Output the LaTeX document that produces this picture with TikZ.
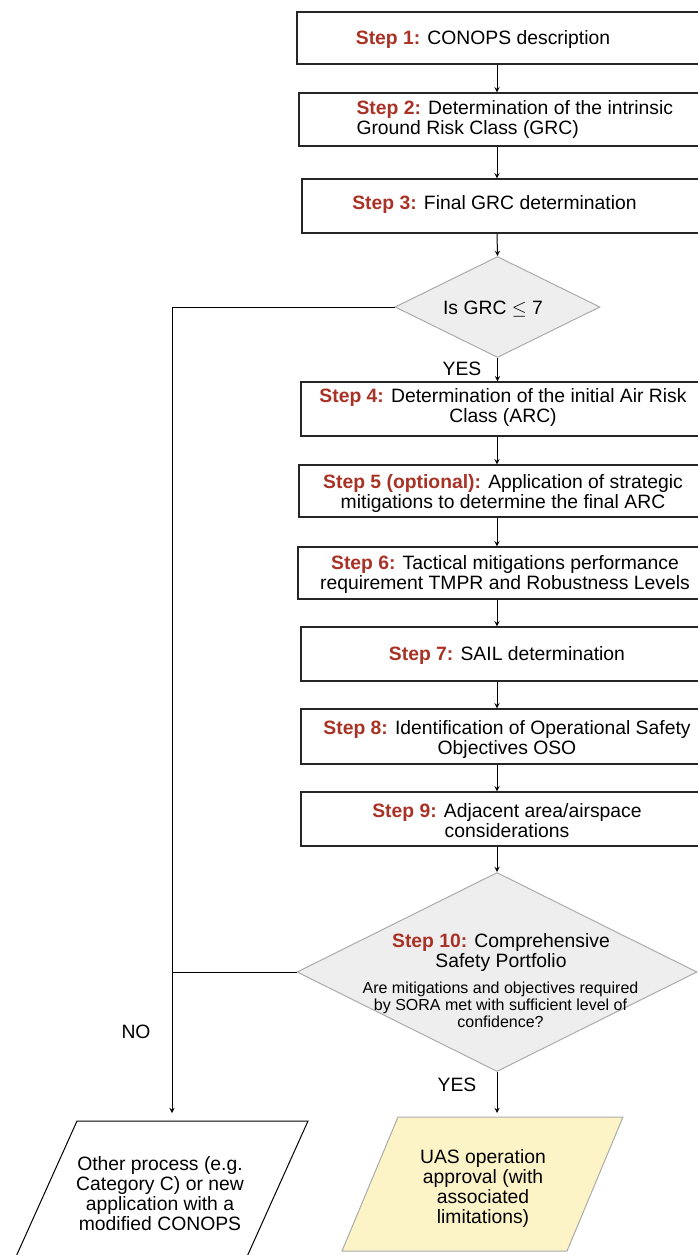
\documentclass[tikz,border=0pt]{standalone}
\usepackage{fontspec}
\setmainfont{Liberation Sans}
\usetikzlibrary{shapes.geometric, fit}
\definecolor{stepred}{HTML}{A93226}
\definecolor{decfill}{HTML}{EEEEEE}
\definecolor{decline}{HTML}{ABABAB}
\definecolor{okfill}{HTML}{FCF4C6}
\newcommand{\steplbl}[1]{\textcolor{stepred}{\textbf{Step #1:}}}
\newcommand{\bigtxt}{\fontsize{14.5}{15}\selectfont}
\newcommand{\smalltxt}{\fontsize{12}{12.6}\selectfont}
\begin{document}
\begin{tikzpicture}[x=0.75pt, y=-0.75pt, line width=0.75pt,
  stepbox/.style={draw=black!85, line width=1pt, rectangle, inner sep=0pt},
  decision/.style={draw=decline, fill=decfill, diamond, inner sep=0pt},
  txt/.style={font=\bigtxt, align=center, inner sep=0pt, yshift=-1.5pt},
  arr/.style={->, >=stealth, line width=0.75pt}]
  \useasboundingbox (0,0) rectangle (697,1255);
  \coordinate (ax) at (497,0);
  \coordinate (endL) at (172,1113);
  \coordinate (endR) at (497,1113);
  % step boxes
  \node[stepbox, fit={(297,12) (708,64)}] (s1) {};
  \node[stepbox, fit={(299,93) (708,146)}] (s2) {};
  \node[stepbox, fit={(302,179) (708,233)}] (s3) {};
  \node[decision, minimum width=153.75pt, minimum height=75.75pt] (d1) at (497.5,307) {};
  \node[stepbox, fit={(301,382) (708,436)}] (s4) {};
  \node[stepbox, fit={(299,465) (708,517)}] (s5) {};
  \node[stepbox, fit={(298,547) (708,599)}] (s6) {};
  \node[stepbox, fit={(301,627) (708,681)}] (s7) {};
  \node[stepbox, fit={(301,709) (708,764)}] (s8) {};
  \node[stepbox, fit={(301,792) (708,846)}] (s9) {};
  \node[decision, minimum width=300pt, minimum height=149.25pt] (d2) at (497,972) {};
  % outcomes
  \draw[line width=0.75pt] (77,1121) -- (308,1121) -- (227.5,1300) -- (-3.5,1300) -- cycle;
  \draw[draw=decline, fill=okfill] (398,1117) -- (623,1117) -- (567,1251) -- (342,1251) -- cycle;
  % texts
  \node[txt] (t1) at (483,38) {\steplbl{1} CONOPS description};
  \node[txt, anchor=west, align=left] (t2) at (356,117) {\steplbl{2} Determination of the intrinsic\\Ground Risk Class (GRC)};
  \node[txt] (t3) at (494.5,203) {\steplbl{3} Final GRC determination};
  \node[txt] (q1) at (493,307) {Is GRC $\leq$ 7};
  \node[txt] (t4) at (503,405) {\steplbl{4} Determination of the initial Air Risk\\Class (ARC)};
  \node[txt] (t5) at (503,491) {\steplbl{5 (optional)} Application of strategic\\mitigations to determine the final ARC};
  \node[txt] (t6) at (505,572) {\steplbl{6} Tactical mitigations performance\\requirement TMPR and Robustness Levels};
  \node[txt] (t7) at (507,653) {\steplbl{7} SAIL determination};
  \node[txt] (t8) at (507,737) {\steplbl{8} Identification of Operational Safety\\Objectives OSO};
  \node[txt] (t9) at (507,819) {\steplbl{9} Adjacent area/airspace\\considerations};
  \node[txt] (t10) at (501,950) {\steplbl{10} Comprehensive\\Safety Portfolio};
  \node[txt, font=\smalltxt] (q10) at (500.5,1003) {Are mitigations and objectives required\\by SORA met with sufficient level of\\confidence?};
  \node[txt] (other) at (160,1192) {Other process (e.g.\\Category C) or new\\application with a\\modified CONOPS};
  \node[txt] (approval) at (483,1186) {UAS operation\\approval (with\\associated\\limitations)};
  \node[txt] (yes1) at (462,367) {YES};
  \node[txt] (yes2) at (457,1083) {YES};
  \node[txt] (no) at (136,1030) {NO};
  % connectors
  \draw[arr] (s1.south -| ax) -- (s2.north -| ax);
  \draw[arr] (s2.south -| ax) -- (s3.north -| ax);
  \draw[arr] (s3.south -| ax) -- (d1.north);
  \draw[arr] (d1.south) -- (s4.north -| d1.south);
  \draw[arr] (s4.south -| ax) -- (s5.north -| ax);
  \draw[arr] (s5.south -| ax) -- (s6.north -| ax);
  \draw[arr] (s6.south -| ax) -- (s7.north -| ax);
  \draw[arr] (s7.south -| ax) -- (s8.north -| ax);
  \draw[arr] (s8.south -| ax) -- (s9.north -| ax);
  \draw[arr] (s9.south -| ax) -- (d2.north);
  \draw[arr] (d1.west) -| (endL);
  \draw (d2.west) -- (d2.west -| endL);
  \draw[arr] (d2.south) -- (endR);
\end{tikzpicture}
\end{document}
